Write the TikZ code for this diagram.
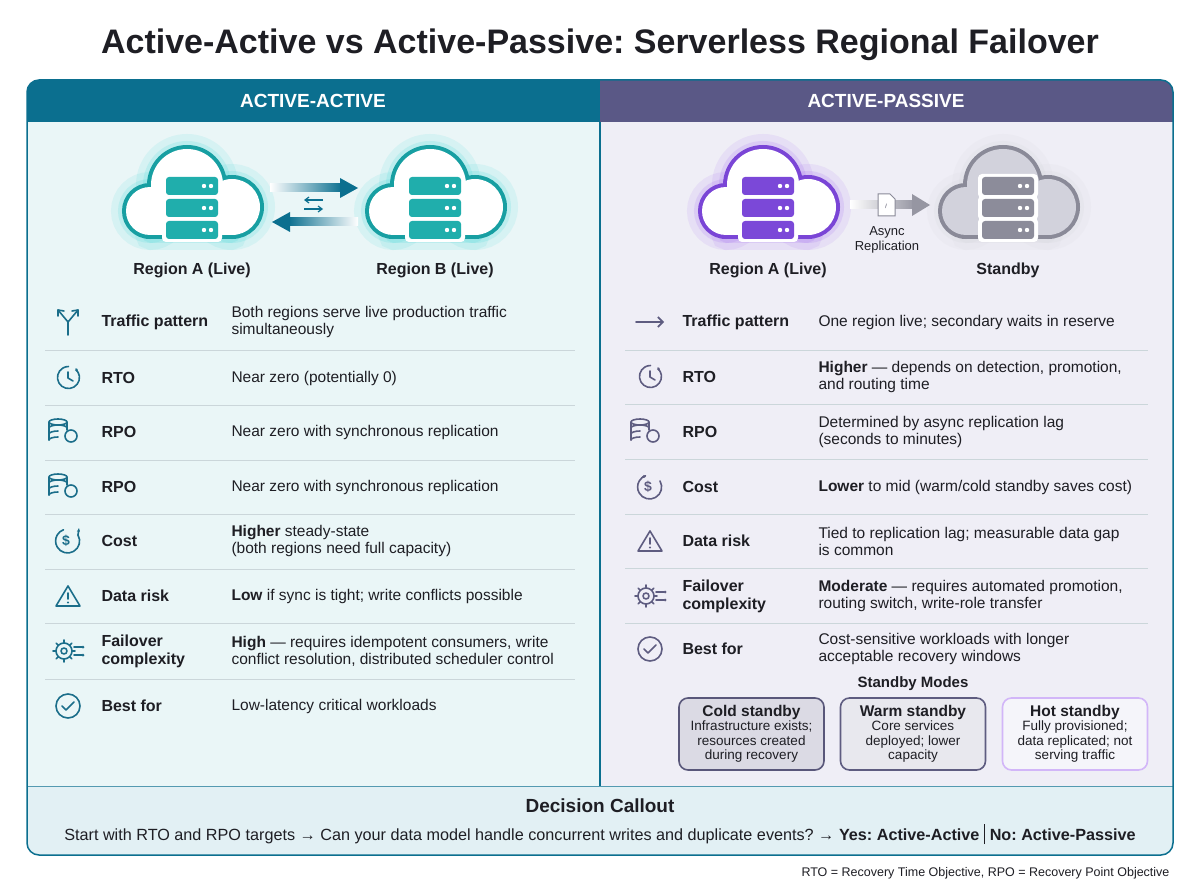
\documentclass[tikz,border=0pt]{standalone}
\usepackage{fontspec}
\setmainfont{Liberation Sans}
\frenchspacing
\usetikzlibrary{arrows.meta,shapes.geometric}
\definecolor{teal1}{HTML}{0B6F8F}
\definecolor{purp1}{HTML}{5A5886}
\definecolor{tealbg}{HTML}{EAF6F7}
\definecolor{purpbg}{HTML}{EFEEF6}
\definecolor{callbg}{HTML}{E2F0F4}
\definecolor{ink}{HTML}{1E1E24}
\definecolor{sep}{HTML}{CBD6DA}
\definecolor{ticon}{HTML}{1B6E8A}
\definecolor{picon}{HTML}{5E5C80}
\definecolor{cyanG}{HTML}{2ED3D3}
\definecolor{cyanS}{HTML}{179FA2}
\definecolor{srvT}{HTML}{20AEAC}
\definecolor{violG}{HTML}{9B5CF0}
\definecolor{violS}{HTML}{7A45D6}
\definecolor{srvV}{HTML}{7B48D8}
\definecolor{grayS}{HTML}{8A8A98}
\definecolor{grayF}{HTML}{D2D2DC}
\definecolor{srvG}{HTML}{8C8C9A}
\tikzset{
  x=1pt,y=-1pt,
  lbl/.style={font=\fontsize{16}{18}\selectfont\bfseries,text=ink,anchor=west,align=left},
  val/.style={font=\fontsize{15.5}{17}\selectfont,text=ink,anchor=west,align=left},
  ctext/.style={font=\fontsize{16}{18}\selectfont\bfseries,text=ink},
  sepl/.style={draw=sep,line width=0.8},
  ico/.style={line width=1.6,line cap=round,line join=round},
  mode/.style={draw,rounded corners=9,line width=1.6,minimum width=145,minimum height=72,align=center,inner sep=2,font=\fontsize{13.5}{14.5}\selectfont,text=ink},
  pics/cloudsrv/.style n args={4}{code={
    \foreach \s in {0,1,2,3}{
      \ifcase\s \def\sh{(-5,-20) circle[radius=36]}\or \def\sh{(-42,6) circle[radius=24]}\or \def\sh{(40,2) circle[radius=28]}\or \def\sh{[rounded corners=2] (-42,-8) rectangle (40,30)}\fi
      \fill[#1,opacity=0.08] \sh;
      \draw[#1,opacity=0.10,line width=30] \sh;
      \draw[#1,opacity=0.15,line width=16] \sh;
    }
    \foreach \s in {0,1,2,3}{
      \ifcase\s \def\sh{(-5,-20) circle[radius=36]}\or \def\sh{(-42,6) circle[radius=24]}\or \def\sh{(40,2) circle[radius=28]}\or \def\sh{(-42,-8) rectangle (40,30)}\fi
      \draw[#2,line width=8] \sh;
    }
    \foreach \s in {0,1,2,3}{
      \ifcase\s \def\sh{(-5,-20) circle[radius=36]}\or \def\sh{(-42,6) circle[radius=24]}\or \def\sh{(40,2) circle[radius=28]}\or \def\sh{(-42,-8) rectangle (40,30)}\fi
      \fill[#3] \sh;
    }
    \foreach \yy in {-19,3,25}{
      \fill[white,rounded corners=4] (-30,\yy-12) rectangle (30,\yy+12);
      \fill[#4,rounded corners=3] (-26,\yy-9) rectangle (26,\yy+9);
      \fill[white] (12,\yy) circle[radius=2.2] (19,\yy) circle[radius=2.2];
    }
  }}
}
\begin{document}
\begin{tikzpicture}
\useasboundingbox (0,0) rectangle (1200,896);
\fill[white] (0,0) rectangle (1200,896);
\node[font=\fontsize{34}{38}\selectfont\bfseries,text=ink] (title) at (600,45) {Active-Active vs Active-Passive: Serverless Regional Failover};
% panels
\fill[tealbg,rounded corners=12] (27,80) rectangle (600,855);
\fill[purpbg,rounded corners=12] (600,80) rectangle (1173,855);
\fill[tealbg] (560,122) rectangle (600,855);
\fill[purpbg] (600,122) rectangle (640,855);
\fill[teal1,rounded corners=12] (27,80) rectangle (600,122);
\fill[teal1] (27,105) rectangle (600,122) (580,80) rectangle (600,122);
\fill[purp1,rounded corners=12] (600,80) rectangle (1173,122);
\fill[purp1] (600,105) rectangle (1173,122) (600,80) rectangle (620,122);
\draw[teal1,line width=1.2] (600,122) -- (600,786);
\node[font=\fontsize{19}{22}\selectfont\bfseries,text=white] (hA) at (313,101) {ACTIVE-ACTIVE};
\node[font=\fontsize{19}{22}\selectfont\bfseries,text=white] (hP) at (886,101) {ACTIVE-PASSIVE};
% callout
\fill[callbg] (27,786) -- (1173,786) -- (1173,843) arc[start angle=0,end angle=90,radius=12] -- (39,855) arc[start angle=90,end angle=180,radius=12] -- cycle;
\draw[teal1!70,line width=1] (27,786) -- (1173,786);
\draw[teal1,line width=1.5,rounded corners=12] (27,80) rectangle (1173,855);
\node[font=\fontsize{19}{22}\selectfont\bfseries,text=ink] (dc) at (600,806) {Decision Callout};
\node[font=\fontsize{16.2}{18}\selectfont,text=ink] (dct) at (600,834) {Start with RTO and RPO targets \textrightarrow{} Can your data model handle concurrent writes and duplicate events? \textrightarrow{} \textbf{Yes: Active-Active} \rule[-4pt]{1.3pt}{20pt} \textbf{No: Active-Passive}};
\node[font=\fontsize{12.5}{14}\selectfont,text=ink,anchor=east] (foot) at (1173,873) {RTO = Recovery Time Objective, RPO = Recovery Point Objective};
% clouds
\pic (cA) at (192,205) {cloudsrv={cyanG}{cyanS}{white}{srvT}};
\pic (cB) at (435,205) {cloudsrv={cyanG}{cyanS}{white}{srvT}};
\pic (pA) at (768,205) {cloudsrv={violG}{violS}{white}{srvV}};
\pic (pS) at (1008,205) {cloudsrv={grayS!40}{grayS}{grayF}{srvG}};
\node[ctext] (lA) at (192,270) {Region A (Live)};
\node[ctext] (lB) at (435,270) {Region B (Live)};
\node[ctext] (lpA) at (768,270) {Region A (Live)};
\node[ctext] (lpS) at (1008,270) {Standby};
% arrows left
\shade[left color=teal1!0,right color=teal1] (270,184) rectangle (342,192);
\fill[teal1] (340,178) -- (358,188) -- (340,198) -- cycle;
\shade[left color=teal1,right color=teal1!0] (288,218) rectangle (358,226);
\fill[teal1] (290,212) -- (272,222) -- (290,232) -- cycle;
\draw[teal1,line width=1.2,-{Straight Barb[length=4,width=6]}] (323,200) -- (304,200);
\draw[teal1,line width=1.2,-{Straight Barb[length=4,width=6]}] (304,209) -- (323,209);
% arrow right
\shade[left color=grayS!0,right color=grayS!90] (850,201) rectangle (915,209);
\fill[grayS!90] (912,194) -- (930,205) -- (912,216) -- cycle;
\fill[white,draw=grayS,line width=1] (878,194) -- (890,194) -- (895,199) -- (895,216) -- (878,216) -- cycle;
\node[font=\fontsize{6}{6}\selectfont,text=grayS] at (886,206) {/\!\!/};
\node[font=\fontsize{13}{15}\selectfont,text=ink,align=center] (async) at (887,240) {Async\\Replication};
% left rows
\foreach \yy in {350,405,460,514,569,623,679}{\draw[sepl] (45,\yy) -- (575,\yy);}
\node[lbl] (l1) at (98,322) {Traffic pattern};
\node[val] (v1) at (228,322) {Both regions serve live production traffic\\simultaneously};
\node[lbl] (l2) at (98,378) {RTO};
\node[val] (v2) at (228,378) {Near zero (potentially 0)};
\node[lbl] (l3) at (98,432) {RPO};
\node[val] (v3) at (228,432) {Near zero with synchronous replication};
\node[lbl] (l4) at (98,487) {RPO};
\node[val] (v4) at (228,487) {Near zero with synchronous replication};
\node[lbl] (l5) at (98,541) {Cost};
\node[val] (v5) at (228,541) {\textbf{Higher} steady-state\\(both regions need full capacity)};
\node[lbl] (l6) at (98,596) {Data risk};
\node[val] (v6) at (228,596) {\textbf{Low} if sync is tight; write conflicts possible};
\node[lbl] (l7) at (98,651) {Failover\\complexity};
\node[val] (v7) at (228,651) {\textbf{High} — requires idempotent consumers, write\\conflict resolution, distributed scheduler control};
\node[lbl] (l8) at (98,706) {Best for};
\node[val] (v8) at (228,706) {Low-latency critical workloads};
% right rows
\foreach \yy in {350,404,459,514,568,623}{\draw[sepl] (625,\yy) -- (1148,\yy);}
\node[lbl] (r1) at (679,322) {Traffic pattern};
\node[val] (w1) at (815,322) {One region live; secondary waits in reserve};
\node[lbl] (r2) at (679,377) {RTO};
\node[val] (w2) at (815,377) {\textbf{Higher} — depends on detection, promotion,\\and routing time};
\node[lbl] (r3) at (679,432) {RPO};
\node[val] (w3) at (815,432) {Determined by async replication lag\\(seconds to minutes)};
\node[lbl] (r4) at (679,487) {Cost};
\node[val] (w4) at (815,487) {\textbf{Lower} to mid (warm/cold standby saves cost)};
\node[lbl] (r5) at (679,541) {Data risk};
\node[val] (w5) at (815,541) {Tied to replication lag; measurable data gap\\is common};
\node[lbl] (r6) at (679,596) {Failover\\complexity};
\node[val] (w6) at (815,596) {\textbf{Moderate} — requires automated promotion,\\routing switch, write-role transfer};
\node[lbl] (r7) at (679,649) {Best for};
\node[val] (w7) at (815,649) {Cost-sensitive workloads with longer\\acceptable recovery windows};
% standby modes
\node[font=\fontsize{15}{17}\selectfont\bfseries,text=ink] (sm) at (913,684) {Standby Modes};
\node[mode,draw=picon!95!black,fill=purp1!22] (m1) at (751.5,734) {{\fontsize{15.5}{17}\selectfont\bfseries Cold standby}\\Infrastructure exists;\\resources created\\during recovery};
\node[mode,draw=picon,fill=purp1!14] (m2) at (913,734) {{\fontsize{15.5}{17}\selectfont\bfseries Warm standby}\\Core services\\deployed; lower\\capacity};
\node[mode,draw=violG!45,fill=purpbg!60!white] (m3) at (1075,734) {{\fontsize{15.5}{17}\selectfont\bfseries Hot standby}\\Fully provisioned;\\data replicated; not\\serving traffic};
% left icons
\begin{scope}[ticon,ico]
 \draw (68,335) -- (68,322) -- (58,310); \draw (68,322) -- (78,310);
 \draw (58,310) -- (58,316) (58,310) -- (64,311); \draw (78,310) -- (78,316) (78,310) -- (72,311);
 \draw (78,372) arc[start angle=-30,end angle=270,radius=11]; \draw (68,372) -- (68,378) -- (73,381);
 \draw[-{Stealth[length=4]}] (76,369) -- (78,373);
 \foreach \cy in {432,487}{
  \draw (58,\cy-10) ellipse[x radius=9,y radius=3];
  \draw (49,\cy-10) -- (49,\cy+8) (67,\cy-10) -- (67,\cy-2);
  \draw (49,\cy-4) arc[start angle=180,end angle=360,x radius=9,y radius=3];
  \draw (49,\cy+2) arc[start angle=180,end angle=270,x radius=9,y radius=3];
  \draw (49,\cy+8) arc[start angle=180,end angle=270,x radius=9,y radius=3];
  \draw (71,\cy+4) circle[radius=6];
 }
 \draw (78,535) arc[start angle=-30,end angle=250,radius=12];
 \node[font=\fontsize{14}{14}\selectfont\bfseries,text=ticon] at (66,541) {\$};
 \draw[-{Stealth[length=4]}] (78,535) -- (79,528);
 \draw (68,586) -- (80,606) -- (56,606) -- cycle; \draw (68,593) -- (68,599); \fill (68,602.5) circle[radius=1.2];
 \draw (64,651) circle[radius=8]; \draw (64,651) circle[radius=3];
 \foreach \a in {0,45,...,315}{\draw (64,651) ++(\a:8) -- ++(\a:3);}
 \draw (74,647) -- (82,647) (74,655) -- (82,655); \fill (83,647) circle[radius=1.5] (83,655) circle[radius=1.5];
 \draw (68,706) circle[radius=12]; \draw (62,706) -- (66,710) -- (74,702);
\end{scope}
% right icons
\begin{scope}[picon,ico]
 \draw[-{Straight Barb[length=5,width=10]}] (636,322) -- (664,322);
 \draw (660,371) arc[start angle=-30,end angle=270,radius=11]; \draw (650,371) -- (650,377) -- (655,380);
 \draw[-{Stealth[length=4]}] (658,368) -- (660,372);
 \def\cy{432}
 \draw (640,\cy-10) ellipse[x radius=9,y radius=3];
 \draw (631,\cy-10) -- (631,\cy+8) (649,\cy-10) -- (649,\cy-2);
 \draw (631,\cy-4) arc[start angle=180,end angle=360,x radius=9,y radius=3];
 \draw (631,\cy+2) arc[start angle=180,end angle=270,x radius=9,y radius=3];
 \draw (631,\cy+8) arc[start angle=180,end angle=270,x radius=9,y radius=3];
 \draw (653,\cy+4) circle[radius=6];
 \draw (660,481) arc[start angle=-30,end angle=250,radius=12];
 \node[font=\fontsize{14}{14}\selectfont\bfseries,text=picon] at (648,487) {\$};
 \draw[-{Stealth[length=4]}] (645,476) -- (641,478);
 \draw (650,531) -- (662,551) -- (638,551) -- cycle; \draw (650,538) -- (650,544); \fill (650,547.5) circle[radius=1.2];
 \draw (646,596) circle[radius=8]; \draw (646,596) circle[radius=3];
 \foreach \a in {0,45,...,315}{\draw (646,596) ++(\a:8) -- ++(\a:3);}
 \draw (656,592) -- (664,592) (656,600) -- (664,600); \fill (665,592) circle[radius=1.5] (665,600) circle[radius=1.5];
 \draw (650,649) circle[radius=12]; \draw (644,649) -- (648,653) -- (656,645);
\end{scope}
\end{tikzpicture}
\end{document}
